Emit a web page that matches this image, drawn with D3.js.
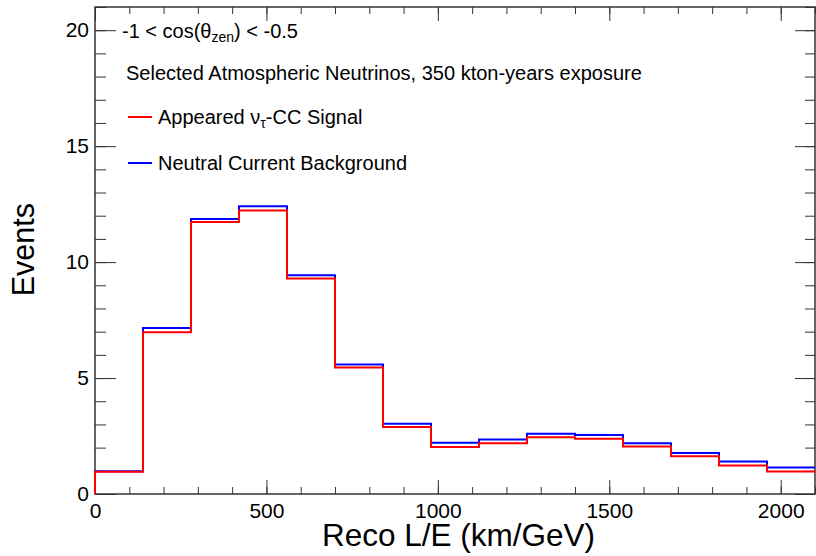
<!DOCTYPE html>
<html>
<head>
<meta charset="utf-8">
<script src="https://cdn.jsdelivr.net/npm/d3@7"></script>
<style>
  html, body { margin: 0; padding: 0; background: #fff; }
  svg { display: block; font-family: "Liberation Sans", Arial, Helvetica, sans-serif; }
</style>
</head>
<body>
<div id="chart"></div>
<script>
// 数据：直方图 bin 边界与事件数
const binEdges = [0, 140, 280, 420, 560, 700, 840, 980, 1120, 1260, 1400, 1540, 1680, 1820, 1960, 2100];
const ncBackground = [0.98, 7.16, 11.86, 12.41, 9.43, 5.58, 3.03, 2.21, 2.35, 2.60, 2.54, 2.19, 1.77, 1.40, 1.14];
const tauSignal    = [0.96, 6.98, 11.73, 12.23, 9.29, 5.45, 2.89, 2.03, 2.19, 2.45, 2.38, 2.05, 1.63, 1.23, 0.97];
const xTicks = [0, 500, 1000, 1500, 2000];
const yTicks = [0, 5, 10, 15, 20];

const width = 816, height = 556;
const margin = { top: 7, right: 1, bottom: 62, left: 95 };
const innerW = width - margin.left - margin.right;
const innerH = height - margin.top - margin.bottom;

const svg = d3.select('#chart').append('svg')
  .attr('width', width)
  .attr('height', height);

const g = svg.append('g')
  .attr('transform', `translate(${margin.left},${margin.top})`);

const x = d3.scaleLinear().domain([0, 2100]).range([0, innerW]);
const y = d3.scaleLinear().domain([0, 21]).range([innerH, 0]);

// 坐标轴：刻度朝内
const axisColor = '#333';
function styleAxis(sel) {
  sel.select('.domain').remove();
  sel.selectAll('.tick line').attr('stroke', axisColor).attr('stroke-width', 1);
}

// 次刻度
g.append('g').attr('transform', `translate(0,${innerH})`)
  .call(d3.axisBottom(x).tickValues(d3.range(0, 2101, 100)).tickSize(-7).tickFormat(''))
  .call(styleAxis);
g.append('g')
  .call(d3.axisTop(x).tickValues(d3.range(0, 2101, 100)).tickSize(-7).tickFormat(''))
  .call(styleAxis);
g.append('g')
  .call(d3.axisLeft(y).tickValues(d3.range(0, 21.01, 1)).tickSize(-11).tickFormat(''))
  .call(styleAxis);
g.append('g').attr('transform', `translate(${innerW},0)`)
  .call(d3.axisRight(y).tickValues(d3.range(0, 21.01, 1)).tickSize(-10).tickFormat(''))
  .call(styleAxis);

// 主刻度
const xAxis = g.append('g').attr('transform', `translate(0,${innerH})`)
  .call(d3.axisBottom(x).tickValues(xTicks).tickSize(-14).tickPadding(9).tickFormat(d3.format('d')))
  .call(styleAxis);
xAxis.selectAll('.tick text')
  .attr('fill', '#000').attr('font-size', 21).attr('dy', '0.71em')
  .attr('font-family', '"Liberation Sans", Arial, sans-serif');

g.append('g')
  .call(d3.axisTop(x).tickValues(xTicks).tickSize(-14).tickFormat(''))
  .call(styleAxis);

const yAxis = g.append('g')
  .call(d3.axisLeft(y).tickValues(yTicks).tickSize(-21).tickPadding(6).tickFormat(d3.format('d')))
  .call(styleAxis);
yAxis.selectAll('.tick text')
  .attr('fill', '#000').attr('font-size', 21)
  .attr('font-family', '"Liberation Sans", Arial, sans-serif');

g.append('g').attr('transform', `translate(${innerW},0)`)
  .call(d3.axisRight(y).tickValues(yTicks).tickSize(-20).tickFormat(''))
  .call(styleAxis);

// 边框
g.append('rect')
  .attr('x', 0).attr('y', 0)
  .attr('width', innerW).attr('height', innerH)
  .attr('fill', 'none').attr('stroke', axisColor).attr('stroke-width', 1.5);

// 直方图阶梯线
function stepPoints(values) {
  const pts = [[binEdges[0], 0]];
  values.forEach((v, i) => {
    pts.push([binEdges[i], v]);
    pts.push([binEdges[i + 1], v]);
  });
  return pts;
}
const line = d3.line().x(d => x(d[0])).y(d => y(d[1]));

g.append('path')
  .datum(stepPoints(ncBackground))
  .attr('d', line)
  .attr('fill', 'none').attr('stroke', '#0000ff').attr('stroke-width', 2);
g.append('path')
  .datum(stepPoints(tauSignal))
  .attr('d', line)
  .attr('fill', 'none').attr('stroke', '#ff0000').attr('stroke-width', 2);

// 轴标题
svg.append('text')
  .attr('x', 595).attr('y', 546)
  .attr('text-anchor', 'end')
  .attr('font-size', 31.5)
  .text('Reco L/E (km/GeV)');

svg.append('text')
  .attr('transform', 'translate(34,203) rotate(-90)')
  .attr('text-anchor', 'end')
  .attr('font-size', 30.5)
  .text('Events');

// 注释文字
const t1 = svg.append('text').attr('x', 122).attr('y', 38).attr('font-size', 20);
t1.append('tspan').text('-1 < cos(θ');
t1.append('tspan').attr('font-size', 14).attr('dy', 4).text('zen');
t1.append('tspan').attr('dy', -4).text(') < -0.5');

svg.append('text').attr('x', 126).attr('y', 80).attr('font-size', 20)
  .text('Selected Atmospheric Neutrinos, 350 kton-years exposure');

// 图例
const legend = [
  { color: '#ff0000', y: 117, parts: [['Appeared ν', 0], ['τ', 1], ['-CC Signal', 0]] },
  { color: '#0000ff', y: 163, parts: [['Neutral Current Background', 0]] }
];
legend.forEach(d => {
  svg.append('line')
    .attr('x1', 128).attr('x2', 152).attr('y1', d.y).attr('y2', d.y)
    .attr('stroke', d.color).attr('stroke-width', 2);
  const t = svg.append('text').attr('x', 158).attr('y', d.y + 7).attr('font-size', 20);
  let sub = false;
  d.parts.forEach(([s, isSub]) => {
    const ts = t.append('tspan').text(s);
    if (isSub && !sub) { ts.attr('font-size', 14).attr('dy', 4); sub = true; }
    else if (!isSub && sub) { ts.attr('dy', -4); sub = false; }
  });
});
</script>
</body>
</html>
